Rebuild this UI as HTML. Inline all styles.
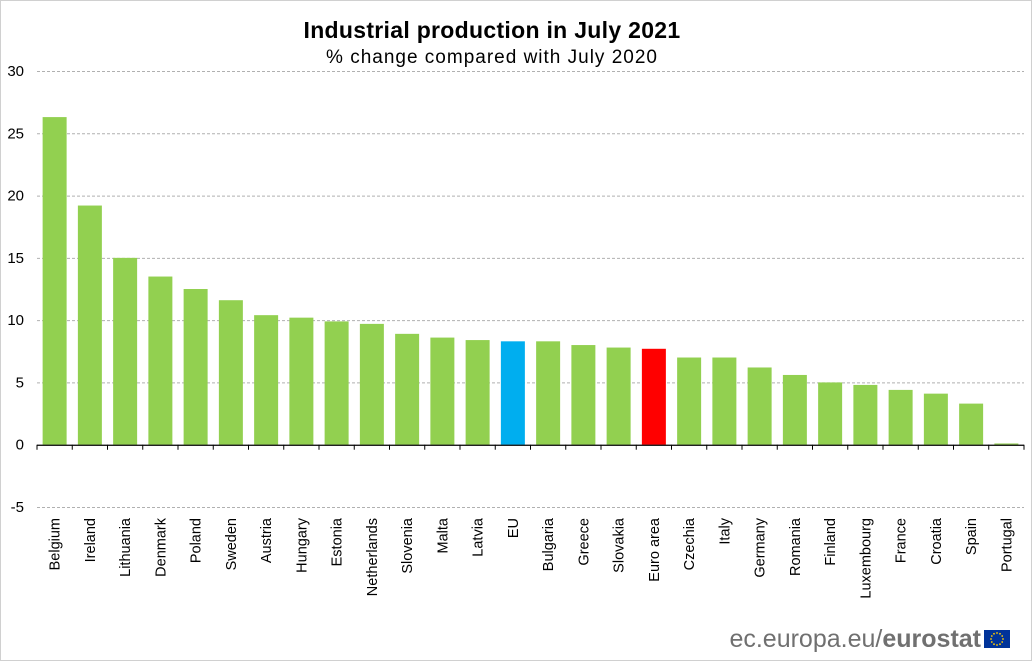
<!DOCTYPE html>
<html><head><meta charset="utf-8"><style>
body{margin:0;background:#fff;}
#wrap{position:relative;width:1030px;height:659px;border:1px solid #d0d0d0;overflow:hidden;font-family:"Liberation Sans",Arial,sans-serif;}
</style></head><body>
<div id="wrap">
<svg id="chart" width="1030" height="659"></svg>
</div>
<script>
const categories=["Belgium","Ireland","Lithuania","Denmark","Poland","Sweden","Austria","Hungary","Estonia","Netherlands","Slovenia","Malta","Latvia","EU","Bulgaria","Greece","Slovakia","Euro area","Czechia","Italy","Germany","Romania","Finland","Luxembourg","France","Croatia","Spain","Portugal"];
const values=[26.3,19.2,15.0,13.5,12.5,11.6,10.4,10.2,9.9,9.7,8.9,8.6,8.4,8.3,8.3,8.0,7.8,7.7,7.0,7.0,6.2,5.6,5.0,4.8,4.4,4.1,3.3,0.1];
const yTicks=[-5,0,5,10,15,20,25,30];
const NS="http://www.w3.org/2000/svg";
const svg=document.getElementById('chart');
const x0=36,x1=1023,yTop=70,yBot=506,yMin=-5,yMax=30;
const y=v=>yTop+(yMax-v)/(yMax-yMin)*(yBot-yTop);
const step=(x1-x0)/categories.length;
const xc=i=>x0+step*(i+0.5);
function mk(t,a){const e=document.createElementNS(NS,t);for(const k in a)e.setAttribute(k,a[k]);svg.appendChild(e);return e;}
let t=mk('text',{x:491,y:37,'text-anchor':'middle','font-size':23,'font-weight':'bold',fill:'#000','letter-spacing':0.3});t.textContent='Industrial production in July 2021';

t=mk('text',{x:491,y:62,'text-anchor':'middle','font-size':19,fill:'#000','letter-spacing':1});t.textContent='% change compared with July 2020';

yTicks.forEach(v=>{
 if(v!==0){const g=mk('line',{x1:x0,x2:x1,y1:y(v)+.5,y2:y(v)+.5,stroke:'#b0b0b0','stroke-dasharray':'3,2','stroke-width':1});
 }
 const l=mk('text',{x:23,y:y(v)+5,'text-anchor':'end','font-size':15,fill:'#000'});l.textContent=v;
 
});
categories.forEach((c,i)=>{
 const v=values[i];const col=c==='EU'?'#00aeef':c==='Euro area'?'#ff0000':'#92d050';
 const top=y(Math.max(v,0)),bot=y(Math.min(v,0));
 const r=mk('rect',{x:xc(i)-12,y:top,width:24,height:Math.max(bot-top,1),fill:col});
 
 const lx=xc(i)+5,ly=517;
 const l=mk('text',{x:lx,y:ly,'text-anchor':'end','font-size':14.5,fill:'#000',transform:`rotate(-90 ${lx} ${ly})`});l.textContent=c;
 
});
const ax=mk('line',{x1:x0,x2:x1,y1:y(0)+.5,y2:y(0)+.5,stroke:'#000','stroke-width':1.3});

for(let i=0;i<=categories.length;i++){const tk=mk('line',{x1:x0+step*i,x2:x0+step*i,y1:y(0),y2:y(0)+5,stroke:'#000'});
 }
t=mk('text',{x:980,y:646,'text-anchor':'end','font-size':25,fill:'#707070'});
t.innerHTML='ec.europa.eu/<tspan font-weight="bold">eurostat</tspan>';

const f=mk('rect',{x:983,y:629,width:26,height:18,fill:'#003399'});

for(let k=0;k<12;k++){const a=k*Math.PI/6;const s=mk('circle',{cx:996+6*Math.cos(a),cy:638+6*Math.sin(a),r:0.9,fill:'#ffcc00'});
 }
</script>
</body></html>
